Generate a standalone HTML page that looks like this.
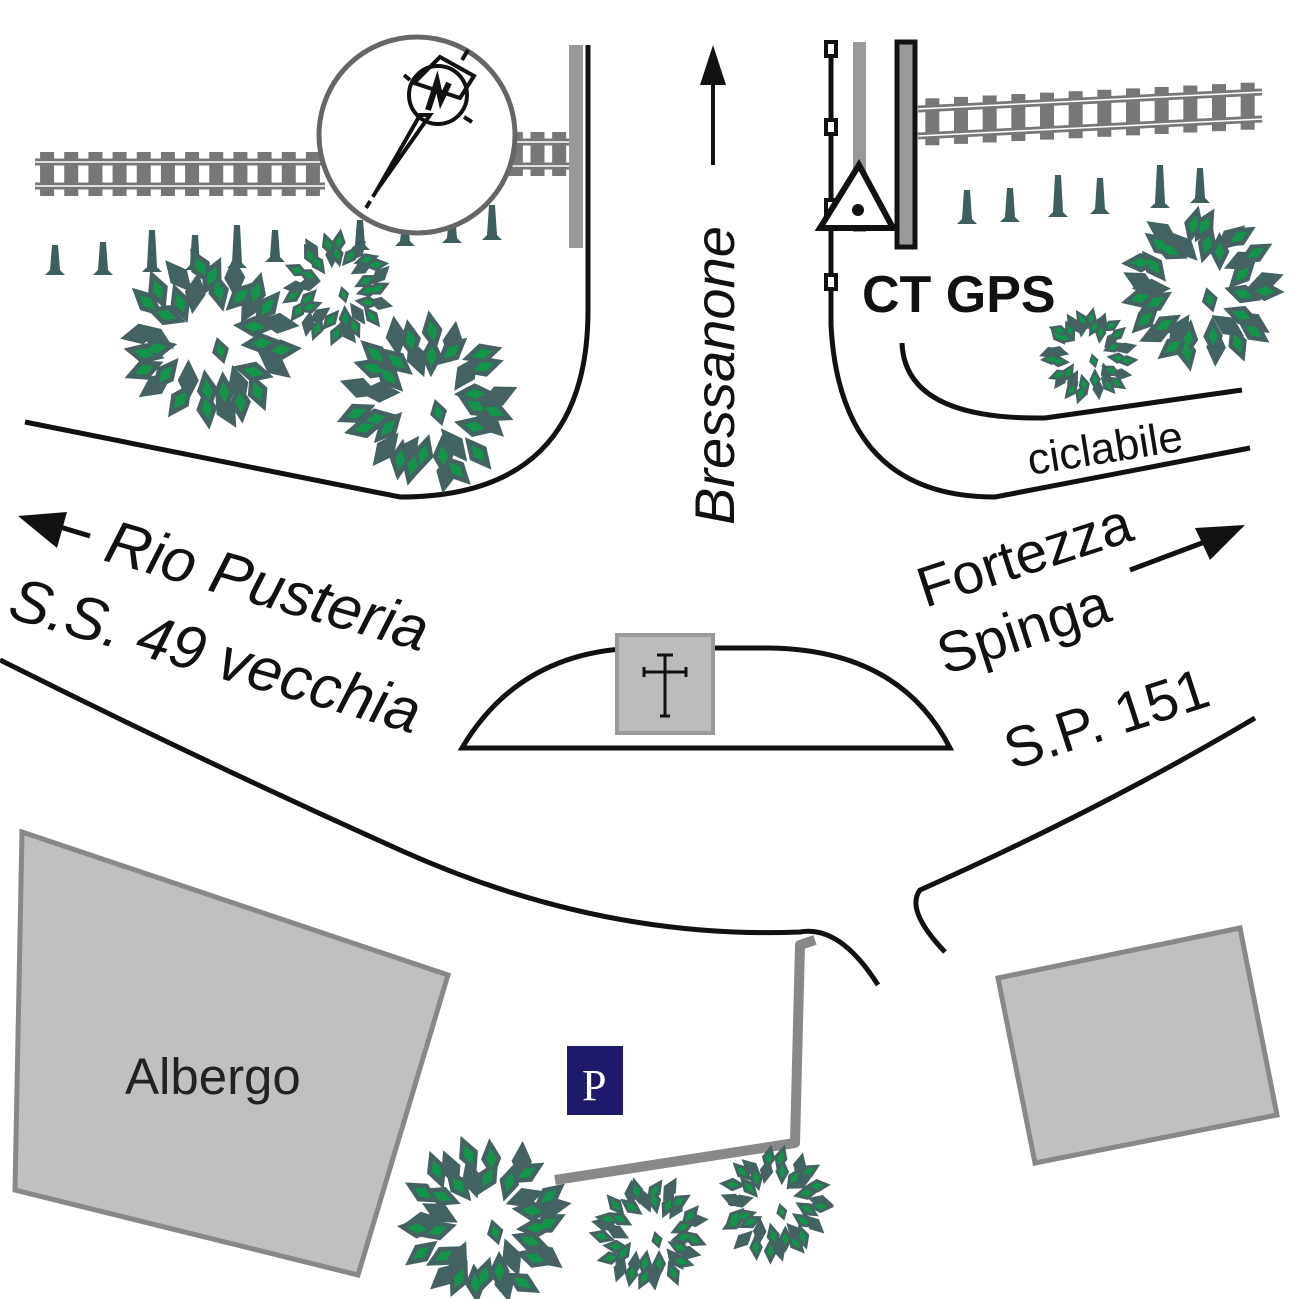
<!DOCTYPE html>
<html><head><meta charset="utf-8"><style>
html,body{margin:0;padding:0;background:#fff}
svg{display:block}
text{font-family:"Liberation Sans",sans-serif}
</style></head><body>
<svg id="s" width="1299" height="1299" viewBox="0 0 1299 1299" xmlns="http://www.w3.org/2000/svg">
<rect width="1299" height="1299" fill="#fff"/>
<g id="rails"></g>
<g id="cones" fill="#3f5f5f"></g>
<circle cx="417" cy="135" r="98" fill="#fff" stroke="#666" stroke-width="5"/>
<g stroke="#111" stroke-width="4" fill="none">
<circle cx="438" cy="95" r="29"/>
<polygon points="430,115 377,190 420,115" fill="none"/>
<line x1="377" y1="190" x2="366" y2="208" stroke-dasharray="8,5"/>
<polygon points="440,57 474,76 460,98 414,83"/>
<line x1="462" y1="60" x2="468" y2="50"/>
<line x1="404" y1="75" x2="410" y2="80"/>
<line x1="464" y1="117" x2="472" y2="122"/>
<path d="M428,110 L437,82 L441,100 L449,83" stroke-width="6"/>
</g>
<rect x="569" y="45" width="14" height="203" fill="#999"/>
<path d="M588,45 L588,310 Q588,497 400,497 L25,422" fill="none" stroke="#111" stroke-width="5"/>
<path d="M831,40 L831,325 Q840,497 995,497 L1250,448" fill="none" stroke="#111" stroke-width="5"/>
<path d="M902,343 Q905,420 1045,418 L1242,390" fill="none" stroke="#111" stroke-width="5"/>
<rect x="853" y="42" width="13" height="190" fill="#999"/>
<rect x="897" y="42" width="18" height="205" fill="#999" stroke="#111" stroke-width="5"/>
<g fill="#fff" stroke="#111" stroke-width="4">
<rect x="826" y="42" width="10" height="14"/><rect x="826" y="120" width="10" height="14"/><rect x="826" y="200" width="10" height="14"/><rect x="826" y="275" width="10" height="14"/>
</g>
<polygon points="859,165 820,228 893,228" fill="#fff" stroke="#111" stroke-width="6"/>
<circle cx="858" cy="210" r="6" fill="#111"/>
<text x="862" y="312" font-size="52" font-weight="bold" fill="#111">CT GPS</text>
<text transform="translate(1030,475) rotate(-9)" font-size="44" fill="#111">ciclabile</text>
<line x1="713" y1="165" x2="713" y2="75" stroke="#111" stroke-width="4"/>
<polygon points="713,45 700,85 726,85" fill="#111"/>
<text transform="translate(734,525) rotate(-90)" font-size="56" font-style="italic" fill="#111">Bressanone</text>
<line x1="90" y1="536" x2="50" y2="524" stroke="#111" stroke-width="5"/>
<polygon points="18,516 67,512 57,548" fill="#111"/>
<text transform="translate(102,560) rotate(16)" font-size="61" font-style="italic" fill="#111">Rio Pusteria</text>
<text transform="translate(6,617) rotate(16)" font-size="61" font-style="italic" fill="#111">S.S. 49 vecchia</text>
<text transform="translate(925,608) rotate(-18)" font-size="57" fill="#111">Fortezza</text>
<text transform="translate(945,675) rotate(-18)" font-size="57" fill="#111">Spinga</text>
<text transform="translate(1012,770) rotate(-18)" font-size="57" fill="#111">S.P. 151</text>
<line x1="1130" y1="570" x2="1210" y2="540" stroke="#111" stroke-width="5"/>
<polygon points="1245,525 1195,528 1210,560" fill="#111"/>
<path d="M462,748 Q520,650 640,648 L770,648 Q900,650 950,748 Z" fill="none" stroke="#111" stroke-width="5"/>
<rect x="617" y="635" width="96" height="98" fill="#bbb" stroke="#999" stroke-width="4"/>
<g stroke="#111" stroke-width="3"><line x1="665" y1="655" x2="665" y2="716"/><line x1="644" y1="672" x2="686" y2="672"/></g>
<path d="M660,716 L670,716 M657,655 L673,655 M644,667 L644,677 M686,667 L686,677" stroke="#111" stroke-width="3"/>
<path d="M0,660 Q200,760 400,850 Q600,940 800,932 Q840,925 878,985" fill="none" stroke="#111" stroke-width="5"/>
<path d="M1255,718 Q1100,810 920,890 Q905,910 945,952" fill="none" stroke="#111" stroke-width="5"/>
<polygon points="22,832 448,975 358,1275 15,1190" fill="#c0c0c0" stroke="#888" stroke-width="5"/>
<text x="125" y="1094" font-size="51" fill="#222">Albergo</text>
<polygon points="998,978 1240,928 1277,1115 1035,1163" fill="#c0c0c0" stroke="#888" stroke-width="5"/>
<rect x="567" y="1046" width="56" height="69" fill="#1d1a6b"/>
<text x="582" y="1100" font-size="44" fill="#fff" style="font-family:'Liberation Serif',serif">P</text>
<path d="M815,940 L800,945 L795,1143 L555,1180" fill="none" stroke="#888" stroke-width="10" stroke-linejoin="round"/>
<g id="trees"></g>
</svg>
<script>
var NS="http://www.w3.org/2000/svg";
function el(p,t,a){var e=document.createElementNS(NS,t);for(var k in a)e.setAttribute(k,a[k]);p.appendChild(e);return e;}
var R=document.getElementById("rails");
function track(x1,y1,x2,y2,n,sp){
  var dx=x2-x1,dy=y2-y1;
  for(var i=0;i<n;i++){var t=(i+0.5)/n,x=x1+dx*t,y=y1+dy*t;
    el(R,"rect",{x:x-7,y:y-6,width:14,height:sp+12,fill:"#777"});}
  el(R,"line",{x1:x1,y1:y1+4,x2:x2,y2:y2+4,stroke:"#777","stroke-width":7});
  el(R,"line",{x1:x1,y1:y1+sp-4,x2:x2,y2:y2+sp-4,stroke:"#777","stroke-width":7});
  el(R,"line",{x1:x1,y1:y1+4,x2:x2,y2:y2+4,stroke:"#fff","stroke-width":1.5});
  el(R,"line",{x1:x1,y1:y1+sp-4,x2:x2,y2:y2+sp-4,stroke:"#fff","stroke-width":1.5});
}
track(35,158,325,158,12,32);
track(505,138,570,138,3,32);
track(918,105,1262,88,12,35);
var C=document.getElementById("cones");
[[55,245,275],[103,242,275],[152,230,272],[195,235,270],[237,225,268],[275,230,262],[360,220,250],[405,225,246],[452,215,243],[492,205,240],
 [967,190,224],[1010,188,222],[1058,175,217],[1100,178,214],[1160,165,208],[1200,168,203]].forEach(function(c){
  var x=c[0],t=c[1],b=c[2];
  el(C,"path",{d:"M"+(x-3)+","+t+" L"+(x+3)+","+t+" L"+(x+5)+","+(b-5)+" L"+(x+10)+","+b+" L"+(x-10)+","+b+" L"+(x-5)+","+(b-5)+" Z"});
});
var T=document.getElementById("trees");
function leaf(cx,cy,ang,L,W,fill){
  var c=Math.cos(ang),s=Math.sin(ang);
  var p=[[L,0],[0,W],[-L,0],[0,-W]].map(function(q){return (cx+q[0]*c-q[1]*s).toFixed(1)+","+(cy+q[0]*s+q[1]*c).toFixed(1);});
  el(T,"polygon",{points:p.join(" "),fill:fill});
}
function tree(cx,cy,r,seed){
  var rnd=function(){seed=(seed*9301+49297)%233280;return seed/233280;};
  var leaves=[];
  var rings=[[0.58,16],[0.78,20]];
  rings.forEach(function(rg){
    for(var i=0;i<rg[1];i++){
      var a=i/rg[1]*Math.PI*2+rnd()*0.25, rr=r*(rg[0]+(rnd()-0.5)*0.12);
      leaves.push([cx+Math.cos(a)*rr,cy+Math.sin(a)*rr,a+(rnd()-0.5)*1.0,r*0.24,r*0.12]);
    }
  });
  leaves.push([cx+r*0.12,cy+r*0.12,1.3,r*0.16,r*0.1]);
  leaves.forEach(function(l){leaf(l[0],l[1],l[2],l[3],l[4],"#456262");});
  leaves.forEach(function(l,i){if(i%3!=2)leaf(l[0],l[1],l[2],l[3]*0.5,l[4]*0.5,"#12944a");});
}
tree(210,340,88,1);tree(337,288,56,2);tree(428,402,88,3);
tree(1200,290,82,4);tree(1088,355,48,5);
tree(485,1222,85,6);tree(650,1233,58,7);tree(775,1205,57,8);
</script>
</body></html>
